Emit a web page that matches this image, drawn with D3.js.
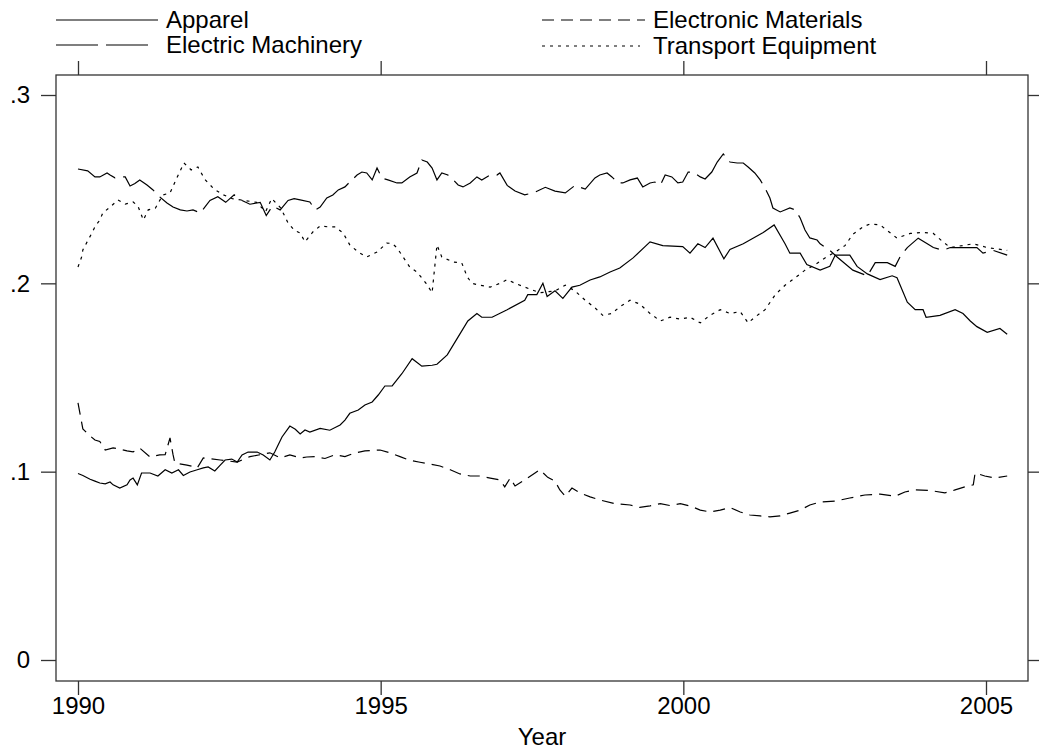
<!DOCTYPE html>
<html>
<head>
<meta charset="utf-8">
<script src="https://cdn.jsdelivr.net/npm/d3@7"></script>
<style>
  body { margin: 0; background: #fff; }
  svg { font-family: "Liberation Sans", Arial, sans-serif; }
  .axis text { font-size: 24px; fill: #000; }
  .axis line { stroke: #333; stroke-width: 1.3px; }
  .axis path { display: none; }
</style>
</head>
<body>
<div id="chart"></div>
<script>
// series: [year, share]
var apparel = [
  [1990.00,.099],[1990.08,.098],[1990.20,.096],[1990.28,.095],[1990.36,.094],[1990.45,.0935],[1990.53,.0945],
  [1990.58,.093],[1990.69,.0913],[1990.81,.093],[1990.86,.0956],[1990.91,.0966],[1990.98,.093],[1991.05,.0993],
  [1991.19,.0993],[1991.32,.0977],[1991.44,.101],[1991.55,.0993],[1991.66,.101],[1991.74,.098],[1991.85,.0998],
  [1991.97,.101],[1992.07,.102],[1992.15,.1025],[1992.26,.1004],[1992.35,.1035],[1992.43,.1062],[1992.54,.1067],
  [1992.63,.1051],[1992.71,.1089],[1992.81,.1104],[1992.96,.1104],[1993.06,.1089],[1993.17,.1062],[1993.25,.1104],
  [1993.37,.1184],[1993.50,.1242],[1993.59,.1225],[1993.67,.12],[1993.75,.1221],[1993.83,.121],[1994.00,.123],
  [1994.16,.122],[1994.33,.1248],[1994.41,.1274],[1994.49,.131],[1994.63,.1327],[1994.74,.1354],[1994.86,.137],
  [1994.96,.1407],[1995.07,.1455],[1995.19,.1455],[1995.35,.152],[1995.52,.16],[1995.68,.156],[1995.85,.1565],
  [1995.93,.157],[1996.10,.162],[1996.25,.170],[1996.44,.18],[1996.59,.184],[1996.67,.182],[1996.84,.182],
  [1997.09,.186],[1997.38,.191],[1997.43,.194],[1997.58,.194],[1997.68,.2],[1997.75,.193],[1997.88,.196],
  [1998.01,.192],[1998.16,.198],[1998.29,.199],[1998.46,.2018],[1998.62,.2034],[1998.79,.206],[1998.95,.2081],
  [1999.17,.2135],[1999.45,.222],[1999.66,.220],[1999.99,.2195],[2000.11,.216],[2000.24,.221],[2000.36,.219],
  [2000.49,.224],[2000.67,.213],[2000.77,.218],[2000.99,.221],[2001.32,.227],[2001.50,.231],[2001.68,.221],
  [2001.76,.216],[2001.93,.216],[2002.04,.210],[2002.26,.207],[2002.42,.209],[2002.51,.215],[2002.75,.215],
  [2002.87,.209],[2003.04,.205],[2003.25,.202],[2003.45,.204],[2003.53,.203],[2003.70,.19],[2003.83,.186],
  [2003.96,.186],[2004.01,.182],[2004.24,.183],[2004.49,.186],[2004.62,.184],[2004.74,.18],[2004.85,.177],
  [2005.02,.174],[2005.23,.176],[2005.35,.173]
];

var electricMachinery = [
  [1990.00,.2607],[1990.16,.2597],[1990.28,.2565],[1990.36,.2565],[1990.48,.2586],[1990.53,.2575],[1990.61,.256],
  [1990.69,.2565],[1990.78,.2565],[1990.86,.2517],[1990.94,.253],[1991.02,.2549],[1991.14,.2522],[1991.24,.2496],
  [1991.35,.2459],[1991.47,.2427],[1991.57,.2405],[1991.69,.239],[1991.80,.2384],[1991.90,.239],[1992.02,.2374],
  [1992.18,.244],[1992.31,.246],[1992.44,.243],[1992.58,.247],[1992.71,.244],[1992.84,.242],[1993.01,.243],
  [1993.11,.236],[1993.21,.241],[1993.34,.239],[1993.47,.244],[1993.57,.245],[1993.67,.2443],[1993.83,.2432],
  [1993.92,.239],[1994.00,.2405],[1994.11,.2453],[1994.21,.2469],[1994.30,.2496],[1994.41,.2512],[1994.49,.2538],
  [1994.61,.2575],[1994.69,.2591],[1994.77,.2586],[1994.86,.2549],[1994.94,.2612],[1995.02,.2559],[1995.12,.2549],
  [1995.27,.2533],[1995.35,.2533],[1995.48,.2565],[1995.60,.2586],[1995.68,.2655],[1995.77,.2644],[1995.85,.2612],
  [1995.93,.2549],[1996.01,.2586],[1996.11,.2575],[1996.20,.2549],[1996.28,.2522],[1996.36,.2512],[1996.48,.2533],
  [1996.59,.2565],[1996.67,.2549],[1996.81,.2575],[1996.92,.2575],[1996.97,.2586],[1997.09,.252],[1997.22,.249],
  [1997.38,.247],[1997.52,.248],[1997.72,.251],[1997.88,.249],[1998.05,.248],[1998.21,.252],[1998.38,.25],
  [1998.54,.256],[1998.62,.2575],[1998.74,.2586],[1998.82,.2565],[1998.92,.2533],[1999.00,.2533],[1999.12,.2549],
  [1999.24,.2559],[1999.33,.2512],[1999.45,.2533],[1999.53,.2538],[1999.62,.2522],[1999.70,.2575],[1999.81,.2565],
  [1999.91,.2533],[1999.99,.2538],[2000.08,.2591],[2000.16,.2591],[2000.28,.2565],[2000.36,.2554],[2000.47,.2591],
  [2000.56,.2644],[2000.66,.2687],[2000.77,.2644],[2000.89,.2639],[2000.99,.2639],[2001.07,.2618],[2001.18,.2586],
  [2001.27,.2549],[2001.35,.2506],[2001.43,.2453],[2001.48,.24],[2001.60,.2379],[2001.76,.24],[2001.85,.239],
  [2001.93,.2347],[2002.01,.2283],[2002.09,.2241],[2002.21,.223],[2002.26,.221],[2002.42,.2175],[2002.54,.214],
  [2002.80,.207],[2003.04,.204],[2003.17,.211],[2003.37,.211],[2003.50,.209],[2003.58,.214],[2003.70,.219],
  [2003.88,.224],[2004.03,.221],[2004.13,.219],[2004.29,.2175],[2004.41,.219],[2004.57,.219],[2004.85,.219],
  [2004.95,.216],[2005.12,.2175],[2005.35,.215]
];

var electronicMaterials = [
  [1990.00,.1365],[1990.08,.1227],[1990.20,.119],[1990.28,.1168],[1990.36,.116],[1990.45,.1115],[1990.58,.1126],
  [1990.69,.112],[1990.81,.111],[1990.91,.1105],[1991.02,.1125],[1991.19,.1078],[1991.35,.1089],[1991.44,.109],
  [1991.52,.1179],[1991.57,.109],[1991.60,.1046],[1991.80,.1035],[1991.90,.1028],[1991.97,.102],[1992.07,.1073],
  [1992.35,.1062],[1992.63,.1051],[1992.84,.108],[1993.01,.109],[1993.17,.11],[1993.34,.1073],[1993.50,.1089],
  [1993.67,.1073],[1993.78,.1078],[1993.92,.108],[1994.08,.107],[1994.25,.109],[1994.41,.108],[1994.58,.11],
  [1994.74,.111],[1994.99,.1115],[1995.15,.11],[1995.32,.108],[1995.48,.106],[1995.65,.105],[1995.82,.104],
  [1995.98,.103],[1996.15,.101],[1996.31,.0988],[1996.48,.0977],[1996.64,.0977],[1996.81,.0966],[1996.97,.0956],
  [1997.05,.0919],[1997.14,.0966],[1997.22,.0924],[1997.38,.0956],[1997.55,.0993],[1997.63,.101],[1997.76,.097],
  [1997.88,.095],[1997.96,.0903],[1998.05,.087],[1998.16,.0913],[1998.29,.0887],[1998.46,.0866],[1998.62,.085],
  [1998.87,.083],[1999.12,.0823],[1999.28,.081],[1999.45,.0818],[1999.62,.083],[1999.78,.082],[1999.95,.083],
  [2000.11,.0818],[2000.28,.0796],[2000.44,.0786],[2000.61,.0796],[2000.77,.081],[2000.94,.0786],[2001.10,.077],
  [2001.27,.0765],[2001.43,.076],[2001.60,.0765],[2001.76,.078],[2001.93,.0796],[2002.09,.0823],[2002.26,.0839],
  [2002.51,.0844],[2002.75,.086],[2003.00,.0876],[2003.25,.0881],[2003.50,.087],[2003.66,.0892],[2003.83,.0903],
  [2004.08,.09],[2004.32,.0887],[2004.49,.0903],[2004.65,.0919],[2004.79,.093],[2004.82,.0993],[2004.98,.0977],
  [2005.15,.0966],[2005.35,.0977]
];

var transportEquipment = [
  [1990.00,.2087],[1990.06,.214],[1990.08,.2177],[1990.15,.222],[1990.23,.2267],[1990.28,.23],[1990.36,.2336],
  [1990.41,.2374],[1990.53,.2405],[1990.66,.2443],[1990.78,.2421],[1990.91,.2432],[1990.99,.241],[1991.08,.2336],
  [1991.16,.239],[1991.28,.24],[1991.40,.2469],[1991.52,.248],[1991.64,.2565],[1991.75,.2639],[1991.87,.2602],
  [1991.98,.2618],[1992.10,.255],[1992.25,.25],[1992.40,.247],[1992.55,.245],[1992.75,.244],[1992.95,.243],
  [1993.10,.238],[1993.20,.245],[1993.35,.24],[1993.47,.232],[1993.58,.228],[1993.67,.2267],[1993.75,.222],
  [1993.88,.2273],[1994.00,.2305],[1994.13,.23],[1994.25,.23],[1994.38,.2267],[1994.49,.2204],[1994.63,.2166],
  [1994.77,.214],[1994.94,.2166],[1995.10,.2214],[1995.19,.2212],[1995.27,.2188],[1995.37,.214],[1995.48,.2087],
  [1995.60,.206],[1995.75,.2],[1995.85,.195],[1995.93,.2204],[1996.01,.214],[1996.20,.2113],[1996.34,.2108],
  [1996.43,.2034],[1996.51,.2],[1996.64,.199],[1996.81,.198],[1996.97,.2],[1997.09,.202],[1997.22,.2],
  [1997.38,.198],[1997.63,.195],[1997.88,.196],[1998.05,.199],[1998.21,.196],[1998.38,.191],[1998.54,.187],
  [1998.67,.183],[1998.82,.184],[1998.95,.1875],[1999.12,.191],[1999.28,.189],[1999.45,.184],[1999.62,.18],
  [1999.78,.182],[1999.95,.181],[2000.11,.182],[2000.28,.179],[2000.44,.183],[2000.61,.186],[2000.77,.184],
  [2000.94,.185],[2001.07,.179],[2001.18,.182],[2001.35,.186],[2001.52,.194],[2001.68,.199],[2001.85,.203],
  [2002.01,.207],[2002.18,.21],[2002.34,.2135],[2002.51,.2166],[2002.67,.22],[2002.80,.226],[2002.97,.23],
  [2003.08,.2315],[2003.25,.231],[2003.53,.224],[2003.75,.2265],[2003.96,.227],[2004.13,.2265],[2004.29,.222],
  [2004.41,.219],[2004.79,.221],[2005.02,.219],[2005.35,.2175]
];

var seriesNames = ["Apparel", "Electric Machinery", "Electronic Materials", "Transport Equipment"];
var xTicks = [1990, 1995, 2000, 2005];
var yTicks = [0, .1, .2, .3];

var width = 1039,
    height = 750,
    frame = {left: 56, right: 1028, top: 75, bottom: 681};

var svg = d3.select("#chart").append("svg")
    .attr("width", width)
    .attr("height", height);

var x = d3.scaleLinear().domain([1990, 2005]).range([78, 986]),
    y = d3.scaleLinear().domain([0, .3]).range([660, 95]);

var yFmt = function(d) { return d === 0 ? "0" : d3.format(".1f")(d).replace(/^0/, ""); };

// axes on all four sides, labels only left and bottom
svg.append("g").attr("class", "axis")
    .attr("transform", "translate(" + frame.left + ",0)")
    .call(d3.axisLeft(y).tickValues(yTicks).tickSize(15).tickSizeOuter(0).tickPadding(11).tickFormat(yFmt));
svg.append("g").attr("class", "axis")
    .attr("transform", "translate(" + frame.right + ",0)")
    .call(d3.axisRight(y).tickValues(yTicks).tickSize(12).tickSizeOuter(0).tickFormat(""));
svg.append("g").attr("class", "axis")
    .attr("transform", "translate(0," + frame.bottom + ")")
    .call(d3.axisBottom(x).tickValues(xTicks).tickSize(14).tickSizeOuter(0).tickPadding(2).tickFormat(d3.format("d")));
svg.append("g").attr("class", "axis")
    .attr("transform", "translate(0," + frame.top + ")")
    .call(d3.axisTop(x).tickValues(xTicks).tickSize(14).tickSizeOuter(0).tickFormat(""));

svg.append("rect")
    .attr("x", frame.left).attr("y", frame.top)
    .attr("width", frame.right - frame.left)
    .attr("height", frame.bottom - frame.top)
    .attr("fill", "none")
    .attr("stroke", "#333")
    .attr("stroke-width", 1.3);

svg.append("text")
    .attr("x", (frame.left + frame.right) / 2)
    .attr("y", 745)
    .attr("text-anchor", "middle")
    .style("font-size", "24px")
    .text("Year");

var line = d3.line()
    .x(function(d) { return x(d[0]); })
    .y(function(d) { return y(d[1]); });

var series = [
  {name: seriesNames[0], values: apparel, dash: null},
  {name: seriesNames[1], values: electricMachinery, dash: "42,8"},
  {name: seriesNames[2], values: electronicMaterials, dash: "12,7"},
  {name: seriesNames[3], values: transportEquipment, dash: "3,5"}
];

svg.selectAll(".series")
    .data(series)
    .enter().append("path")
    .attr("class", "series")
    .attr("d", function(d) { return line(d.values); })
    .attr("fill", "none")
    .attr("stroke", "#000")
    .attr("stroke-width", 1.2)
    .attr("stroke-dasharray", function(d) { return d.dash; });

// legend, two columns
var legendPos = [
  {x: 56, y: 20, len: 102},
  {x: 56, y: 45, len: 94},
  {x: 542, y: 20, len: 103},
  {x: 542, y: 46, len: 98}
];

var legend = svg.selectAll(".legend")
    .data(series)
    .enter().append("g")
    .attr("class", "legend")
    .attr("transform", function(d, i) { return "translate(" + legendPos[i].x + "," + legendPos[i].y + ")"; });

legend.append("line")
    .attr("x1", 0)
    .attr("x2", function(d, i) { return legendPos[i].len; })
    .attr("stroke", "#000")
    .attr("stroke-width", 1.2)
    .attr("stroke-dasharray", function(d) { return d.dash; });

legend.append("text")
    .attr("x", function(d, i) { return i < 2 ? 110 : 111; })
    .attr("y", 8)
    .style("font-size", "24px")
    .text(function(d) { return d.name; });
</script>
</body>
</html>
